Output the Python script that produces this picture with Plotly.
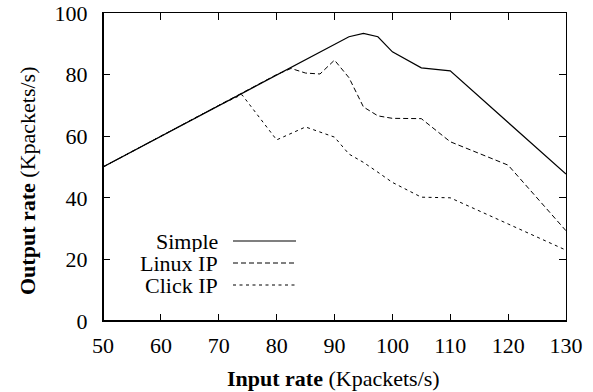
import plotly.graph_objects as go

# Data
simple_x = [50, 60, 70, 80, 90, 92.5, 95, 97.5, 100, 105, 110, 130]
simple_y = [50, 60, 70, 80, 90, 92.3, 93.4, 92.3, 87.4, 82.2, 81.2, 47.7]

linux_x = [50, 60, 70, 80, 82.5, 85, 87.5, 90, 92.5, 95, 97.5, 100, 105, 110, 120, 130]
linux_y = [50, 60, 70, 80, 82.0, 80.5, 80.2, 84.7, 79.0, 69.5, 66.6, 65.8, 65.7, 58.2, 50.6, 29.3]

click_x = [50, 60, 70, 74, 80, 85, 90, 92.5, 95, 97.5, 100, 105, 110, 120, 130]
click_y = [50, 60, 70, 73.5, 58.8, 63.0, 59.7, 54.2, 51.5, 48.3, 45.0, 40.2, 40.0, 31.5, 23.0]

series_names = ["Simple", "Linux IP", "Click IP"]
x_ticks = [50, 60, 70, 80, 90, 100, 110, 120, 130]
y_ticks = [0, 20, 40, 60, 80, 100]

FONT = "Liberation Serif, Times New Roman, serif"
FS = 22
dashes = ["solid", "5px,3px", "3px,3.5px"]
widths = [1.2, 1, 1]

fig = go.Figure()
for name, xs, ys, d, w in zip(series_names, [simple_x, linux_x, click_x],
                              [simple_y, linux_y, click_y], dashes, widths):
    fig.add_trace(go.Scatter(x=xs, y=ys, mode="lines", name=name,
                             line=dict(color="black", width=w, dash=d),
                             showlegend=False, hoverinfo="skip"))

W, H = 593, 392
L, R, T, B = 103, 27, 13, 71
pw = W - L - R
ph = H - T - B

def px(xp):
    return (xp - L) / pw

def py(yp):
    return (H - B - yp) / ph

axis_common = dict(showline=True, linecolor="black", linewidth=1, mirror="allticks",
                   ticks="inside", ticklen=7, tickwidth=1, tickcolor="black",
                   showgrid=False, zeroline=False, automargin=False,
                   tickfont=dict(family=FONT, size=FS, color="black"))

fig.update_xaxes(range=[50, 130], tickvals=x_ticks, ticklabelstandoff=5, **axis_common)
fig.update_yaxes(range=[0, 100], tickvals=y_ticks, ticklabelstandoff=10, **axis_common)

# Thicker left and bottom axis lines
fig.add_shape(type="line", xref="paper", yref="paper", x0=0, x1=0, y0=0, y1=1,
              line=dict(color="black", width=2))
fig.add_shape(type="line", xref="paper", yref="paper", x0=0, x1=1, y0=0, y1=0,
              line=dict(color="black", width=2))

# Legend (text right-aligned, sample line to the right)
leg_rows = [241, 263, 285]
for name, yrow, d, w in zip(series_names, leg_rows, dashes, widths):
    fig.add_annotation(xref="paper", yref="paper", x=px(219), y=py(yrow),
                       text=name, showarrow=False, xanchor="right", yanchor="middle",
                       height=21, borderpad=0, valign="middle",
                       font=dict(family=FONT, size=FS, color="black"))
    fig.add_shape(type="line", xref="paper", yref="paper",
                  x0=px(233), x1=px(296), y0=py(yrow), y1=py(yrow),
                  line=dict(color="black", width=w, dash=d))

# Axis titles
fig.add_annotation(xref="paper", yref="paper", x=px(333), y=py(379),
                   text="<b>Input rate</b> (Kpackets/s)", showarrow=False,
                   xanchor="center", yanchor="middle",
                   font=dict(family=FONT, size=FS, color="black"))
fig.add_annotation(xref="paper", yref="paper", x=px(27), y=py(181),
                   text="<b>Output rate</b> (Kpackets/s)", showarrow=False,
                   textangle=-90, xanchor="center", yanchor="middle",
                   font=dict(family=FONT, size=FS, color="black"))

fig.update_layout(width=W, height=H, margin=dict(l=L, r=R, t=T, b=B, autoexpand=False),
                  paper_bgcolor="white", plot_bgcolor="white", hovermode=False,
                  font=dict(family=FONT, size=FS, color="black"))

fig.write_html("out.html", config={"displayModeBar": False, "staticPlot": True},
               post_script="document.body.style.margin='0';document.body.style.padding='0';"
                           "document.body.style.overflow='hidden';")
